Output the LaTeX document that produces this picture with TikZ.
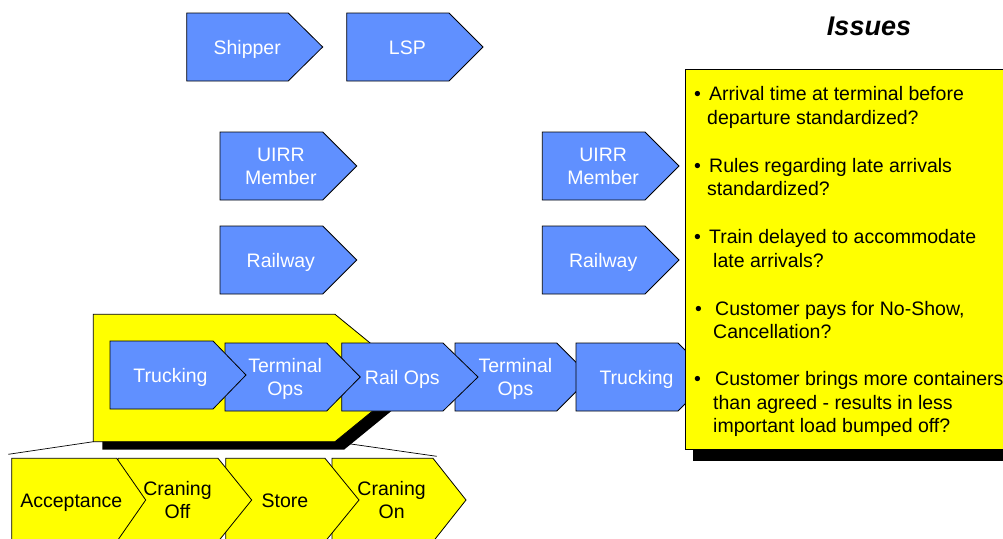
\documentclass[tikz,border=0pt]{standalone}
\usepackage{fontspec}
\setmainfont{Liberation Sans}
\usetikzlibrary{calc}
\definecolor{procblue}{RGB}{96,144,255}
\definecolor{hiyellow}{RGB}{255,255,0}

% pentagon process arrow: name, style, x, y, body width, tip length, height
\newcommand{\penta}[7]{%
  \draw[#2] (#3,#4) -- ++(#5,0) -- ++(#6,#7/2) -- ++(-#6,#7/2) -- ++(-#5,0) -- cycle;
  \coordinate (#1) at ({#3+0.445*(#5+#6)},{#4+#7/2});
}

\tikzset{
  bluebox/.style={fill=procblue, draw=black, line width=0.8pt, line join=miter},
  yelbox/.style={fill=hiyellow, draw=black, line width=0.8pt, line join=miter},
  lbl/.style={anchor=base, inner sep=0pt, font=\fontsize{19.5}{23.4}\selectfont},
  wlbl/.style={lbl, text=white},
  issue/.style={anchor=base west, inner sep=0pt, font=\fontsize{19.5}{23.4}\selectfont},
  zoomline/.style={draw=black, line width=0.7pt}
}

\begin{document}
\begin{tikzpicture}[x=1pt, y=-1pt]
\useasboundingbox (0,0) rectangle (1003,538);
\clip (0,0) rectangle (1003,538);

% top actors
\penta{shipC}{bluebox}{186.7}{13}{101.5}{34.5}{68}
\node[wlbl] (ship) at ($(shipC)+(0,7)$) {Shipper};
\penta{lspC}{bluebox}{346.7}{13}{102.3}{34}{68}
\node[wlbl] (lsp) at ($(lspC)+(0,7)$) {LSP};

% operators, origin side
\penta{uirrLC}{bluebox}{220}{132}{102.7}{34}{68}
\node[wlbl] (uirrLa) at ($(uirrLC)+(0,-4.6)$) {UIRR};
\node[wlbl] (uirrLb) at ($(uirrLC)+(0,18.7)$) {Member};
\penta{railLC}{bluebox}{220}{226}{102.7}{34}{68}
\node[wlbl] (railL) at ($(railLC)+(0,7)$) {Railway};

% operators, destination side
\penta{uirrRC}{bluebox}{542.3}{132}{102.7}{34}{68}
\node[wlbl] (uirrRa) at ($(uirrRC)+(0,-4.6)$) {UIRR};
\node[wlbl] (uirrRb) at ($(uirrRC)+(0,18.7)$) {Member};
\penta{railRC}{bluebox}{542.3}{226}{102.7}{34}{68}
\node[wlbl] (railR) at ($(railRC)+(0,7)$) {Railway};

% highlighted terminal segment with its zoom lines
\coordinate (bigBL) at (93.3,441.7);
\coordinate (bigBR) at (335,441.7);
\coordinate (zoomL) at (8.3,454.3);
\coordinate (zoomR) at (436.7,456.3);
\draw[zoomline] (bigBL) -- (zoomL);
\draw[zoomline] (bigBR) -- (zoomR);
\fill[black, shift={(9,8)}] (93.3,314.3) -- (335,314.3) -- (413,378) -- (335,441.7) -- (93.3,441.7) -- cycle;
\draw[yelbox] (93.3,314.3) -- (335,314.3) -- (413,378) -- (bigBR) -- (bigBL) -- cycle;

% transport chain
\penta{top2C}{bluebox}{455}{343}{101.7}{34}{68}
\node[wlbl] (top2a) at ($(top2C)+(0,-4.6)$) {Terminal};
\node[wlbl] (top2b) at ($(top2C)+(0,18.7)$) {Ops};
\penta{truck2C}{bluebox}{576}{343}{102}{34}{68}
\node[wlbl] (truck2) at ($(truck2C)+(0,7)$) {Trucking};
\penta{railopsC}{bluebox}{341.7}{343}{101.3}{35}{68}
\node[wlbl] (railops) at ($(railopsC)+(0,7)$) {Rail Ops};
\penta{top1C}{bluebox}{225}{343}{101.7}{33.5}{68}
\node[wlbl] (top1a) at ($(top1C)+(0,-4.6)$) {Terminal};
\node[wlbl] (top1b) at ($(top1C)+(0,18.7)$) {Ops};
\penta{truck1C}{bluebox}{110}{341}{103}{33}{68}
\node[wlbl] (truck1) at ($(truck1C)+(0,7)$) {Trucking};

% terminal sub-steps
\penta{cronC}{yelbox}{332}{458.3}{101}{33}{83.4}
\node[lbl] (crona) at ($(cronC)+(0,-4.6)$) {Craning};
\node[lbl] (cronb) at ($(cronC)+(0,18.7)$) {On};
\penta{storeC}{yelbox}{225.7}{458.3}{99.3}{34}{83.4}
\node[lbl] (store) at ($(storeC)+(0,7)$) {Store};
\penta{croffC}{yelbox}{118}{458.3}{100}{33.7}{83.4}
\node[lbl] (croffa) at ($(croffC)+(0,-4.6)$) {Craning};
\node[lbl] (croffb) at ($(croffC)+(0,18.7)$) {Off};
\penta{accC}{yelbox}{11.7}{458.3}{105}{29}{83.4}
\node[lbl] (acc) at ($(accC)+(0,7)$) {Acceptance};

% issues panel
\node[anchor=base, inner sep=0pt, font=\fontsize{27}{30}\selectfont\bfseries\itshape] (title) at (869,35) {Issues};
\fill[black] (693,80) rectangle (1025,461);
\draw[fill=hiyellow, draw=black, line width=0.8pt] (685,69.3) rectangle (1020,449.5);

\node[issue] (b1) at (694,100.5) {•};
\node[issue] (i1a) at (709,100.5) {Arrival time at terminal before};
\node[issue] (i1b) at (707,124) {departure standardized?};
\node[issue] (b2) at (694,172) {•};
\node[issue] (i2a) at (709,172) {Rules regarding late arrivals};
\node[issue] (i2b) at (707,195.5) {standardized?};
\node[issue] (b3) at (694,243.5) {•};
\node[issue] (i3a) at (709,243.5) {Train delayed to accommodate};
\node[issue] (i3b) at (713,267) {late arrivals?};
\node[issue] (b4) at (695,315) {•};
\node[issue] (i4a) at (715,315) {Customer pays for No-Show,};
\node[issue] (i4b) at (713,338.5) {Cancellation?};
\node[issue] (b5) at (694,385.5) {•};
\node[issue] (i5a) at (715,385.5) {Customer brings more containers};
\node[issue] (i5b) at (713,409) {than agreed - results in less};
\node[issue] (i5c) at (713,432.5) {important load bumped off?};
\end{tikzpicture}
\end{document}
